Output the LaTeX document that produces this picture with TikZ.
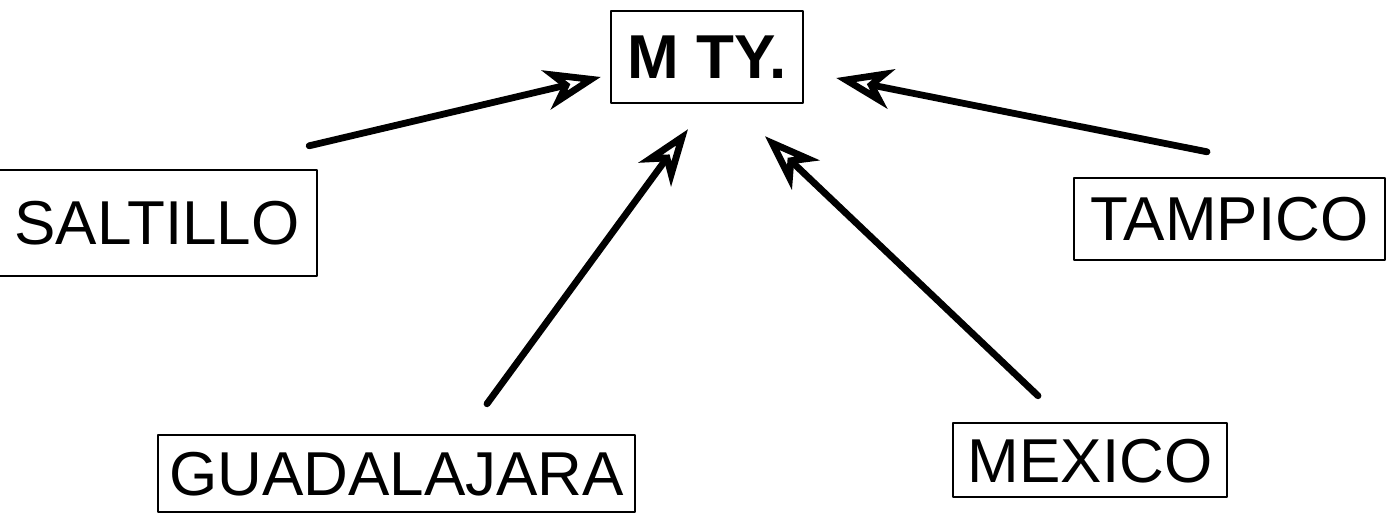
\documentclass[tikz,border=0pt]{standalone}
\usepackage{fontspec}
\setmainfont{Liberation Sans}
\usetikzlibrary{arrows.meta,positioning,calc}

\begin{document}
\begin{tikzpicture}[->,>={Stealth[open,length=28pt,width=20pt,inset=8pt]},
    x=0.5pt,y=-0.5pt,line width=3.4pt,line cap=round,line join=round,
    city node/.style={rectangle,draw,line width=1.2pt,inner sep=0pt,
    font=\fontsize{31}{31}\selectfont,text height=22pt,text depth=0pt}]

    \useasboundingbox (0,0) rectangle (1392,513);

    \node[city node,minimum width=96pt,minimum height=46pt,font=\fontsize{31}{31}\selectfont\bfseries] (Monterrey) at (707,57) {M TY.};

    \node[city node,minimum width=160pt,minimum height=53pt] (Saltillo) at (157,223) {SALTILLO};
    \node[city node,minimum width=155.5pt,minimum height=41pt] (Tampico) at (1229.5,219) {TAMPICO};

    \node[city node,minimum width=238.5pt,minimum height=38.5pt] (Guadalajara) at (396.5,473.5) {GUADALAJARA};
    \node[city node,minimum width=137pt,minimum height=37pt] (Mexico) at (1090,460) {MEXICO};

    \draw [->] ($(Saltillo.north east)+(-9,-23)$) -- ($(Monterrey.west)+(-9,20)$);
    \draw [->] ($(Guadalajara.north)+(90.5,-30)$) -- ($(Monterrey.south)+(-19,25)$);
    \draw [->] ($(Mexico.north)+(-52,-26)$) -- ($(Monterrey.south)+(58,32)$);
    \draw [->] ($(Tampico.north)+(-22.5,-25)$) -- ($(Monterrey.east)+(32,21)$);
  \end{tikzpicture}
\end{document}
